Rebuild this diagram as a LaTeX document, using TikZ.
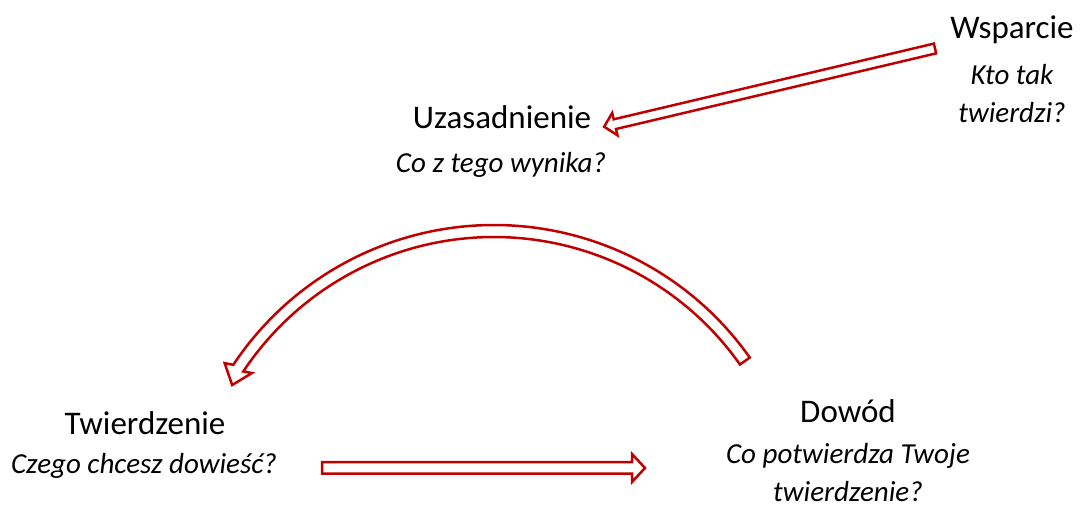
\documentclass[tikz,border=0pt]{standalone}
\usepackage{fontspec}
\setmainfont{Carlito}
\usetikzlibrary{calc}
\definecolor{arrred}{HTML}{C00000}
\tikzset{
  ttl/.style={anchor=base, inner sep=0pt, font=\fontsize{33}{40}\selectfont},
  sub/.style={anchor=base, inner sep=0pt, align=center, font=\fontsize{29}{38}\selectfont\itshape},
  arr/.style={draw=arrred, line width=2.5pt, fill=white, line join=miter},
}
\newcommand\blockarrow[6]{%
  \begin{scope}[shift={(#1)}, rotate=#2]
    \draw[arr] (0,-#4) -- ({#3-#6},-#4) -- ({#3-#6},-#5) -- (#3,0) -- ({#3-#6},#5) -- ({#3-#6},#4) -- (0,#4) -- cycle;
  \end{scope}}
\begin{document}
\begin{tikzpicture}[x=1pt,y=1pt]
\useasboundingbox (0,0) rectangle (1080,510);
% nodes (y measured upward: tikz y = 510 - image y); multi-line nodes anchored at last baseline
\node[ttl] (wsp) at (1012,471) {Wsparcie};
\node[sub] (wspq) at (1012,387) {Kto tak\\twierdzi?};
\node[ttl] (uza) at (502,381) {Uzasadnienie};
\node[sub] (uzaq) at (501,337) {Co z tego wynika?};
\node[ttl] (twi) at (145,75) {Twierdzenie};
\node[sub] (twiq) at (144,36) {Czego chcesz dowieść?};
\node[ttl] (dow) at (848,87) {Dowód};
\node[sub] (dowq) at (848,8) {Co potwierdza Twoje\\twierdzenie?};
% arrow Wsparcie -> Uzasadnienie
\coordinate (a1) at (935,461.5);
\blockarrow{a1}{193.3}{340}{5}{11.5}{11}
% arrow Twierdzenie -> Dowod
\coordinate (a3) at (322,42);
\blockarrow{a3}{0}{323}{5.75}{14}{13}
% curved arrow Dowod -> Twierdzenie
\coordinate (C) at (494,-28);
\coordinate (hb) at ($(C)+(146.4:307)$);
\coordinate (hc1) at ($(hb)+(160:14.5)$);
\coordinate (hc2) at ($(hb)+(-20:14.5)$);
\coordinate (tip) at ($(hb)+(250:18)$);
\draw[arr] ($(C)+(35.2:313)$) arc[start angle=35.2, end angle=146.4, radius=313]
  -- (hc1) -- (tip) -- (hc2) -- ($(C)+(146.4:301)$)
  arc[start angle=146.4, end angle=35.2, radius=301] -- cycle;
\end{tikzpicture}
\end{document}
